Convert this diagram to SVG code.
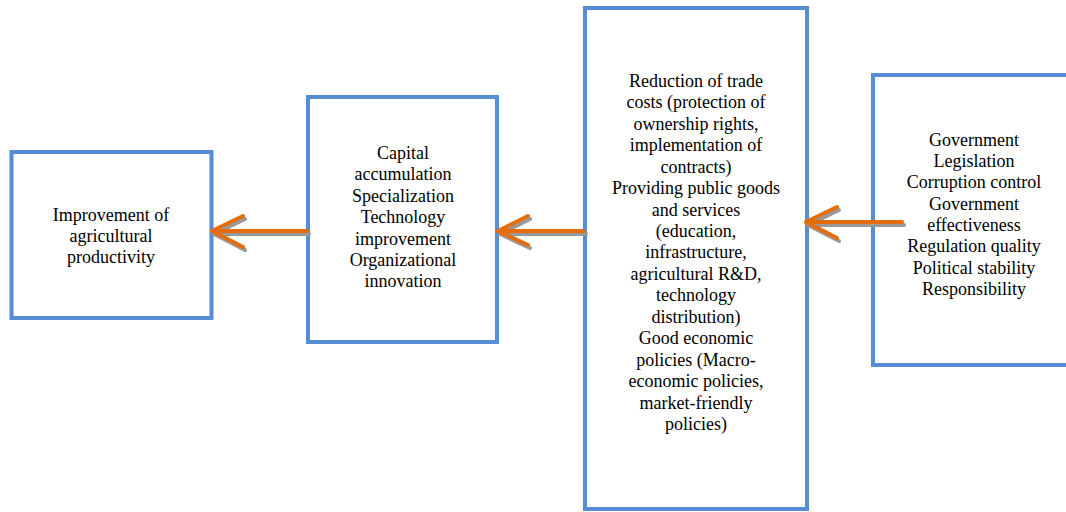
<svg xmlns="http://www.w3.org/2000/svg" width="1066" height="512" viewBox="0 0 1066 512">
<style>
.box{fill:#fff;stroke:#558ED5;stroke-width:4}
.t{font-family:"Liberation Serif","Times New Roman",serif;font-size:18px;fill:#000;text-anchor:middle}
.sh{fill:none;stroke:#999;stroke-width:4;stroke-linecap:round;stroke-linejoin:round}
.ar{fill:none;stroke:#E46C0A;stroke-width:4;stroke-linecap:round;stroke-linejoin:round}
</style>
<rect width="1066" height="512" fill="#fff"/>
<g id="node-productivity">
<rect class="box" x="11.5" y="152" width="200" height="166"/>
<text class="t"><tspan x="111" y="221">Improvement of</tspan><tspan x="111" y="242">agricultural</tspan><tspan x="111" y="263">productivity</tspan></text>
</g>
<g id="node-capital">
<rect class="box" x="308" y="97" width="189" height="245"/>
<text class="t"><tspan x="403" y="159">Capital</tspan><tspan x="403" y="180.4">accumulation</tspan><tspan x="403" y="201.8">Specialization</tspan><tspan x="403" y="223.2">Technology</tspan><tspan x="403" y="244.6">improvement</tspan><tspan x="403" y="266">Organizational</tspan><tspan x="403" y="287.4">innovation</tspan></text>
</g>
<g id="node-policies">
<rect class="box" x="585" y="8" width="222" height="501"/>
<text class="t"><tspan x="696" y="86.7">Reduction of trade</tspan><tspan x="696" y="108.2">costs (protection of</tspan><tspan x="696" y="129.6">ownership rights,</tspan><tspan x="696" y="151.1">implementation of</tspan><tspan x="696" y="172.5">contracts)</tspan><tspan x="696" y="194">Providing public goods</tspan><tspan x="696" y="215.5">and services</tspan><tspan x="696" y="236.9">(education,</tspan><tspan x="696" y="258.4">infrastructure,</tspan><tspan x="696" y="279.8">agricultural R&amp;D,</tspan><tspan x="696" y="301.3">technology</tspan><tspan x="696" y="322.8">distribution)</tspan><tspan x="696" y="344.2">Good economic</tspan><tspan x="696" y="365.7">policies (Macro-</tspan><tspan x="696" y="387.1">economic policies,</tspan><tspan x="696" y="408.6">market-friendly</tspan><tspan x="696" y="430">policies)</tspan></text>
</g>
<g id="node-governance">
<rect class="box" x="873" y="75" width="210" height="290"/>
<text class="t"><tspan x="974" y="145.7">Government</tspan><tspan x="974" y="167">Legislation</tspan><tspan x="974" y="188.3">Corruption control</tspan><tspan x="974" y="209.6">Government</tspan><tspan x="974" y="230.9">effectiveness</tspan><tspan x="974" y="252.2">Regulation quality</tspan><tspan x="974" y="273.5">Political stability</tspan><tspan x="974" y="294.8">Responsibility</tspan></text>
</g>
<g id="connectors">
<g transform="translate(2,3)">
<path class="sh" d="M307 231H212M243 216L212 231L243 247"/>
<path class="sh" d="M584 231H498M528 216L498 231L528 245"/>
<path class="sh" d="M902 222H806M837 207L806 222L837 238"/>
</g>
<path class="ar" d="M307 231H212M243 216L212 231L243 247"/>
<path class="ar" d="M584 231H498M528 216L498 231L528 245"/>
<path class="ar" d="M902 222H806M837 207L806 222L837 238"/>
</g>
</svg>
